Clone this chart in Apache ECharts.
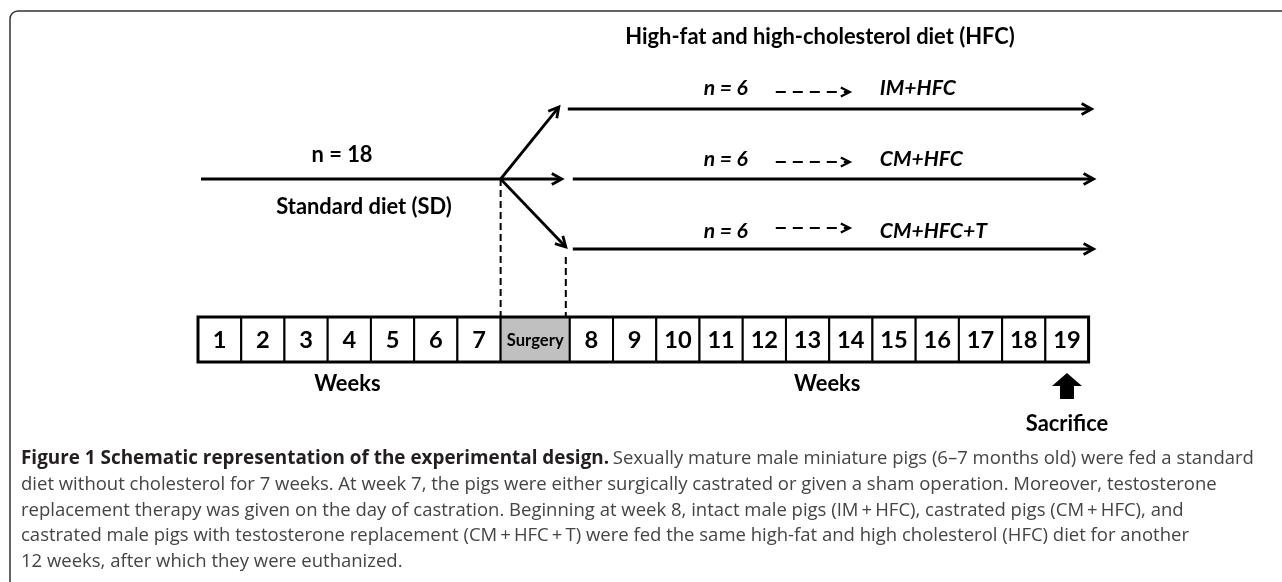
<!DOCTYPE html>
<html>
<head>
<meta charset="utf-8">
<script src="https://cdn.jsdelivr.net/npm/echarts@6/dist/echarts.min.js"></script>
<style>
html, body { margin: 0; padding: 0; background: #fff; }
#main { width: 1282px; height: 582px; }
</style>
</head>
<body>
<div id="main"></div>
<script>
// timeline cells and their length in week units
var cellLabels = ['1', '2', '3', '4', '5', '6', '7', 'Surgery', '8', '9', '10', '11', '12', '13', '14', '15', '16', '17', '18', '19'];
var cellLengths = [1, 1, 1, 1, 1, 1, 1, 1.6, 1, 1, 1, 1, 1, 1, 1, 1, 1, 1, 1, 1];
var totalN = 18;
var groupNames = ['IM+HFC', 'CM+HFC', 'CM+HFC+T'];
var groupN = [6, 6, 6];
var sdLabel = 'Standard diet (SD)';
var hfcLabel = 'High-fat and high-cholesterol diet (HFC)';
var weeksLabel = 'Weeks';
var sacrificeWeek = '19';
var captionBold = 'Figure 1 Schematic representation of the experimental design.';
var captionLines = [
    ' Sexually mature male miniature pigs (6\u20137 months old) were fed a standard',
    'diet without cholesterol for 7 weeks. At week 7, the pigs were either surgically castrated or given a sham operation. Moreover, testosterone',
    'replacement therapy was given on the day of castration. Beginning at week 8, intact male pigs (IM\u2009+\u2009HFC), castrated pigs (CM\u2009+\u2009HFC), and',
    'castrated male pigs with testosterone replacement (CM\u2009+\u2009HFC\u2009+\u2009T) were fed the same high-fat and high cholesterol (HFC) diet for another',
    '12 weeks, after which they were euthanized.'
];

var cellStart = [];
var acc = 0;
for (var i = 0; i < cellLengths.length; i++) {
    cellStart.push(acc);
    acc += cellLengths[i];
}
var timelineEnd = acc;
var surgeryIdx = cellLabels.indexOf('Surgery');
var surgeryStart = cellStart[surgeryIdx];
var hfcStart = surgeryStart + cellLengths[surgeryIdx];
var sacIdx = cellLabels.indexOf(sacrificeWeek);

var cellData = cellLabels.map(function (l, i) {
    return [cellStart[i], cellStart[i] + cellLengths[i], i];
});
var groupData = groupNames.map(function (g, i) {
    return [surgeryStart, hfcStart, timelineEnd, i];
});

// font sizes fitted to the widths measured on the picture
var ctx = document.createElement('canvas').getContext('2d');
function fitSize(text, weight, family, target) {
    ctx.font = weight + ' 100px ' + family;
    return Math.round(1000 * target / ctx.measureText(text).width) / 10;
}
var DF = 'Lato, "Open Sans", sans-serif';
var CF = '"Open Sans", "Noto Sans", sans-serif';
var boldSize = fitSize(hfcLabel, 'bold', DF, 390);
var italSize = fitSize(groupNames[2], 'italic bold', DF, 107);
var cellSize = boldSize * 1.08;
var surgSize = fitSize('Surgery', 'bold', DF, 57);
var capBoldSize = fitSize(captionBold, 'bold', CF, 587);
var capSize = fitSize(captionLines[1], 'normal', CF, 1198);

var BOX_TOP = 317;

function txt(x, y, text, size, opt) {
    opt = opt || {};
    return {
        type: 'text', x: x, y: y,
        style: {
            text: text, fill: opt.color || '#000',
            fontSize: size, fontFamily: opt.family || DF,
            fontWeight: opt.weight || 'bold', fontStyle: opt.style || 'normal',
            align: opt.align || 'center', verticalAlign: 'middle'
        }
    };
}
function arrow(a, b, len, half, lw, dash) {
    var dx = b[0] - a[0], dy = b[1] - a[1];
    var d = Math.sqrt(dx * dx + dy * dy);
    dx /= d; dy /= d;
    var bx = b[0] - dx * len, by = b[1] - dy * len;
    return [
        {type: 'line', shape: {x1: a[0], y1: a[1], x2: b[0] - dx * 1, y2: b[1] - dy * 1},
            style: {stroke: '#000', lineWidth: lw, lineDash: dash || null}},
        {type: 'polyline', shape: {points: [[bx - dy * half, by + dx * half], b, [bx + dy * half, by - dx * half]]},
            style: {stroke: '#000', lineWidth: lw, fill: null}}
    ];
}

var chart = echarts.init(document.getElementById('main'));

var option = {
    animation: false,
    backgroundColor: '#fff',
    grid: [
        {left: 198, top: 109, width: 890.6, height: 140},
        {left: 198, top: BOX_TOP, width: 890.6, height: 45}
    ],
    xAxis: [
        {type: 'value', gridIndex: 0, min: 0, max: timelineEnd, show: false},
        {type: 'value', gridIndex: 1, min: 0, max: timelineEnd, show: false}
    ],
    yAxis: [
        {type: 'value', gridIndex: 0, min: 0, max: 2, inverse: true, show: false},
        {type: 'value', gridIndex: 1, min: 0, max: 1, show: false}
    ],
    graphic: [],
    series: [
        {
            // standard diet period
            type: 'custom', xAxisIndex: 0, yAxisIndex: 0,
            data: [[0, surgeryStart, 1]],
            renderItem: function (params, api) {
                var a = api.coord([api.value(0), api.value(2)]);
                var s = api.coord([api.value(1), api.value(2)]);
                var h = api.coord([hfcStart, 2]);
                return {type: 'group', children: [
                    {type: 'line', shape: {x1: a[0] + 3, y1: a[1], x2: s[0], y2: s[1]}, style: {stroke: '#000', lineWidth: 2.8}},
                    {type: 'line', shape: {x1: s[0], y1: s[1], x2: s[0], y2: BOX_TOP}, style: {stroke: '#000', lineWidth: 2, lineDash: [7, 4]}},
                    {type: 'line', shape: {x1: h[0] - 4, y1: h[1] + 8, x2: h[0] - 4, y2: BOX_TOP}, style: {stroke: '#000', lineWidth: 2, lineDash: [7, 4]}},
                    txt(a[0] + 144, a[1] - 24, 'n = ' + totalN, boldSize),
                    txt(a[0] + 166, a[1] + 28, sdLabel, boldSize)
                ]};
            }
        },
        {
            // the three HFC groups
            type: 'custom', xAxisIndex: 0, yAxisIndex: 0,
            data: groupData,
            renderItem: function (params, api) {
                var lane = api.value(3);
                var s = api.coord([api.value(0), 1]);
                var h = api.coord([api.value(1), lane]);
                var e = api.coord([api.value(2), lane]);
                var tipDx = [-11, -8, -4][lane], tipDy = [-2, 0, -2][lane];
                var startDx = [-2, 3, 3][lane], endDx = [3, 5, 5][lane];
                var txtDy = [-21, -20, -18][lane], dashDy = [-17, -17, -21][lane];
                var kids = [];
                kids = kids.concat(arrow(s, [h[0] + tipDx, h[1] + tipDy], 10, 5.5, 2.8));
                kids = kids.concat(arrow([h[0] + startDx, h[1]], [e[0] + endDx, e[1]], 10, 5.5, 2.8));
                kids = kids.concat(arrow([h[0] + 206, h[1] + dashDy], [h[0] + 280, h[1] + dashDy], 9, 4.5, 2.2, [10, 7]));
                kids.push(txt(h[0] + 156, h[1] + txtDy, 'n = ' + groupN[lane], italSize, {style: 'italic'}));
                kids.push(txt(h[0] + 310, h[1] + txtDy, groupNames[lane], italSize, {style: 'italic', align: 'left'}));
                return {type: 'group', children: kids};
            }
        },
        {
            // week cells
            type: 'custom', xAxisIndex: 1, yAxisIndex: 1,
            data: cellData,
            renderItem: function (params, api) {
                var a = api.coord([api.value(0), 1]);
                var b = api.coord([api.value(1), 0]);
                var label = cellLabels[api.value(2)];
                var surg = label === 'Surgery';
                return {type: 'group', children: [
                    {type: 'rect', shape: {x: a[0], y: a[1], width: b[0] - a[0], height: b[1] - a[1]},
                        style: {fill: surg ? '#c0c0c0' : '#fff', stroke: '#000', lineWidth: 2}},
                    txt((a[0] + b[0]) / 2, (a[1] + b[1]) / 2 + 1, label, surg ? surgSize : cellSize)
                ]};
            }
        },
        {
            // outer frame of the week bar
            type: 'custom', xAxisIndex: 1, yAxisIndex: 1,
            data: [[0, timelineEnd]],
            renderItem: function (params, api) {
                var a = api.coord([api.value(0), 1]);
                var b = api.coord([api.value(1), 0]);
                return {type: 'rect', shape: {x: a[0], y: a[1], width: b[0] - a[0], height: b[1] - a[1]},
                    style: {fill: null, stroke: '#000', lineWidth: 3}};
            }
        },
        {
            // "Weeks" under both periods
            type: 'custom', xAxisIndex: 1, yAxisIndex: 1,
            data: [[0, surgeryStart], [hfcStart, timelineEnd]],
            renderItem: function (params, api) {
                var a = api.coord([api.value(0), 0]);
                var b = api.coord([api.value(1), 0]);
                return txt((a[0] + b[0]) / 2 - 2, a[1] + 22, weeksLabel, boldSize);
            }
        },
        {
            // sacrifice marker
            type: 'custom', xAxisIndex: 1, yAxisIndex: 1,
            data: [[cellStart[sacIdx] + cellLengths[sacIdx] / 2]],
            renderItem: function (params, api) {
                var p = api.coord([api.value(0), 0]);
                var x = p[0], y = p[1];
                return {type: 'group', children: [
                    {type: 'polygon', shape: {points: [[x, y + 11], [x + 15, y + 24], [x + 7, y + 24], [x + 7, y + 37],
                        [x - 7, y + 37], [x - 7, y + 24], [x - 15, y + 24]]}, style: {fill: '#000'}},
                    txt(x, y + 62, 'Sacrifice', boldSize)
                ]};
            }
        }
    ]
};

// frame, heading and caption
option.graphic.push({type: 'rect', shape: {x: 10, y: 11, width: 1400, height: 700, r: 8},
    style: {fill: null, stroke: '#333', lineWidth: 1.5}});
option.graphic.push(txt(820, 37, hfcLabel, boldSize));
option.graphic.push(txt(21, 459, captionBold, capBoldSize, {family: CF, color: '#231f20', align: 'left'}));
captionLines.forEach(function (line, i) {
    var x = i === 0 ? 21 + 587 : 21;
    option.graphic.push(txt(x, 459 + 25.7 * i, line, capSize, {family: CF, weight: 'normal', color: '#444', align: 'left'}));
});

chart.setOption(option);
</script>
</body>
</html>
